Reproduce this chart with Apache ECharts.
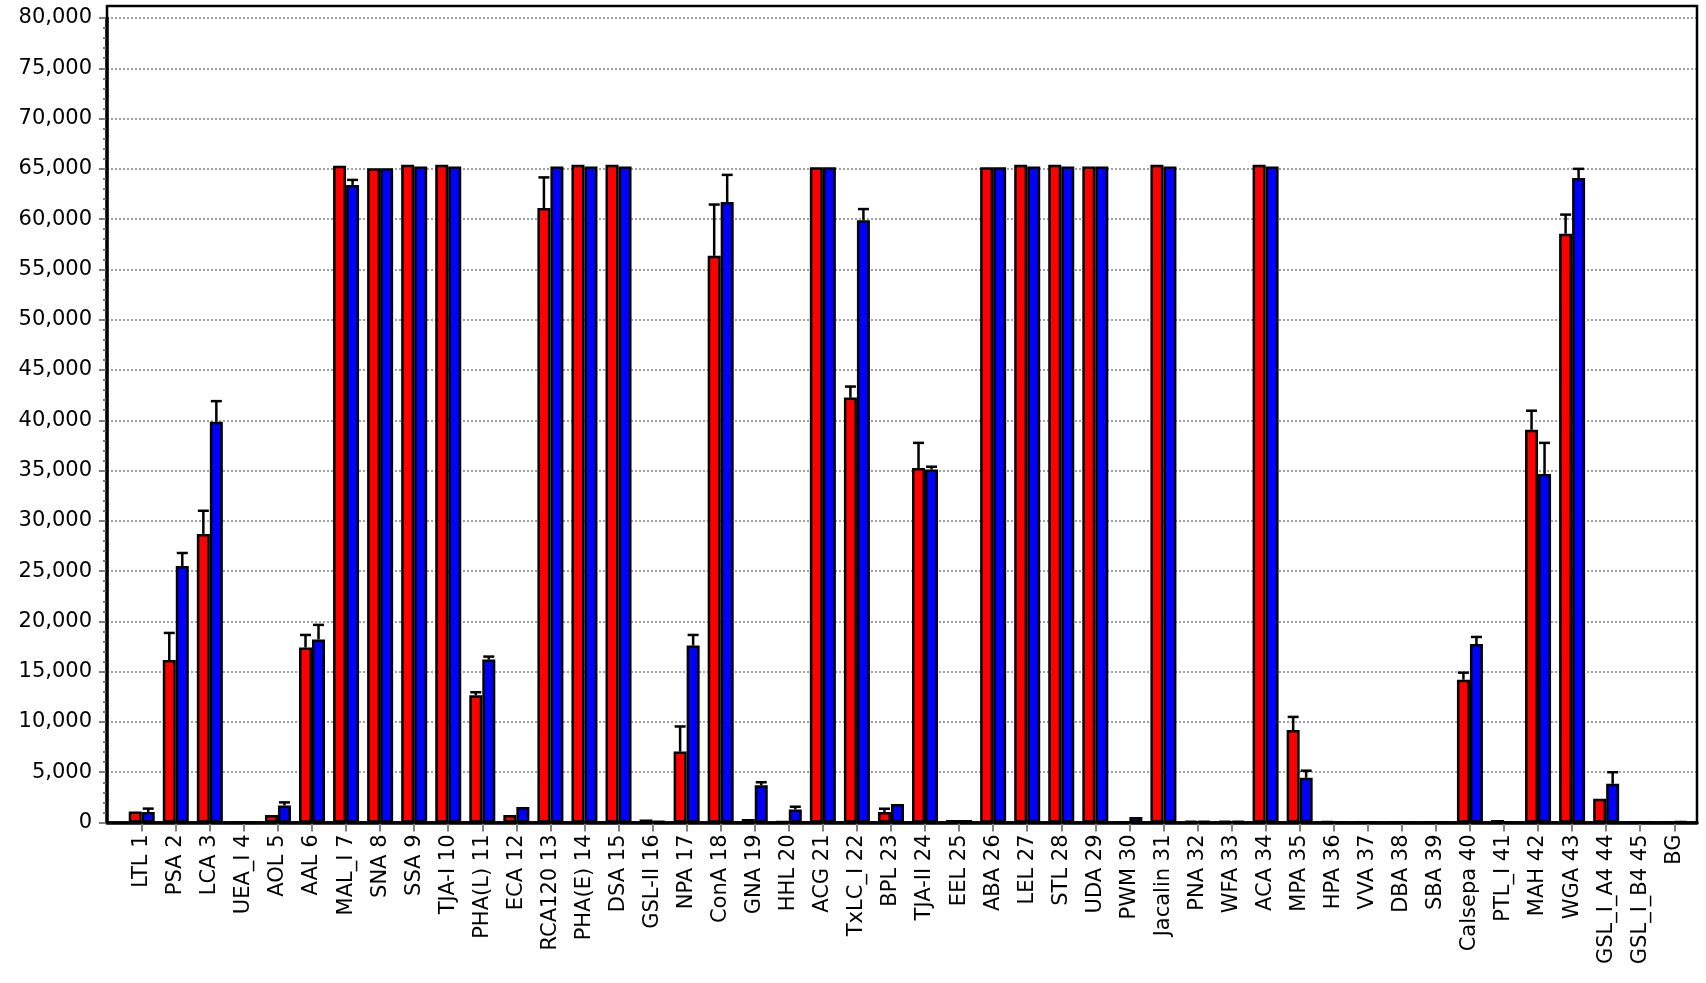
<!DOCTYPE html>
<html>
<head>
<meta charset="utf-8">
<title>Lectin array signal</title>
<script src="https://cdn.jsdelivr.net/npm/echarts/dist/echarts.min.js"></script>
<style>
  html, body { margin: 0; padding: 0; background: #fff; }
  #chart { width: 1706px; height: 983px; }
</style>
</head>
<body>
<div id="chart"></div>
<script>
// Lectin probes along the x axis
const categories = [
  'LTL 1', 'PSA 2', 'LCA 3', 'UEA_I 4', 'AOL 5', 'AAL 6', 'MAL_I 7', 'SNA 8', 'SSA 9', 'TJA-I 10',
  'PHA(L) 11', 'ECA 12', 'RCA120 13', 'PHA(E) 14', 'DSA 15', 'GSL-II 16', 'NPA 17', 'ConA 18', 'GNA 19', 'HHL 20',
  'ACG 21', 'TxLC_I 22', 'BPL 23', 'TJA-II 24', 'EEL 25', 'ABA 26', 'LEL 27', 'STL 28', 'UDA 29', 'PWM 30',
  'Jacalin 31', 'PNA 32', 'WFA 33', 'ACA 34', 'MPA 35', 'HPA 36', 'VVA 37', 'DBA 38', 'SBA 39', 'Calsepa 40',
  'PTL_I 41', 'MAH 42', 'WGA 43', 'GSL_I_A4 44', 'GSL_I_B4 45', 'BG'
];

// First sample (red bars) and its standard deviations
const redValues = [
  1100, 16150, 28700, 0, 750, 17400, 65300, 65050, 65400, 65400,
  12650, 750, 61100, 65400, 65400, 300, 7050, 56350, 350, 100,
  65150, 42250, 1050, 35250, 250, 65150, 65400, 65400, 65230, 0,
  65400, 150, 150, 65400, 9200, 100, 0, 0, 0, 14200,
  250, 39050, 58550, 2350, 0, 0
];
const redErrors = [
  0, 2700, 2300, 0, 0, 1250, 0, 0, 0, 0,
  300, 0, 3050, 0, 0, 0, 2500, 5100, 0, 0,
  0, 1100, 320, 2500, 0, 0, 0, 0, 0, 0,
  0, 0, 0, 0, 1300, 0, 0, 0, 0, 700,
  0, 1900, 1900, 0, 0, 0
];

// Second sample (blue bars) and its standard deviations
const blueValues = [
  1050, 25500, 39850, 0, 1700, 18200, 63400, 65050, 65230, 65230,
  16200, 1550, 65230, 65230, 65230, 150, 17600, 61700, 3700, 1300,
  65150, 59900, 1850, 35100, 250, 65150, 65230, 65230, 65230, 550,
  65230, 150, 150, 65230, 4450, 0, 0, 0, 0, 17750,
  0, 34650, 64100, 3850, 0, 100
];
const blueErrors = [
  330, 1300, 2050, 0, 300, 1450, 500, 0, 0, 0,
  300, 0, 0, 0, 0, 0, 1050, 2700, 300, 270,
  0, 1100, 0, 280, 0, 0, 0, 0, 0, 0,
  0, 0, 0, 0, 700, 0, 0, 0, 0, 700,
  0, 3100, 900, 1150, 0, 0
];

const Y_MAX = 80000;
const Y_STEP = 5000;

const FONT = 'DejaVu Sans';
const BAR_W = 13;
const CAP_W = 11;
const TICK_GREY = '#808080';

const chart = echarts.init(document.getElementById('chart'), null, { renderer: 'canvas' });

// Upward-only error bar (stem + cap) placed over the matching bar
function errorBars(values, errors, side) {
  return {
    type: 'custom',
    xAxisIndex: 1,
    yAxisIndex: 1,
    z: 5,
    silent: true,
    data: values.map((v, i) => [i, v, v + errors[i], errors[i]]),
    encode: { x: 0, y: [1, 2] },
    renderItem(params, api) {
      if (api.value(3) <= 0) return null;
      const base = api.coord([api.value(0), api.value(1)]);
      const tip = api.coord([api.value(0), api.value(2)]);
      const x = base[0] + side * BAR_W / 2;
      const half = CAP_W / 2;
      const style = { stroke: '#000', lineWidth: 2.5 };
      return {
        type: 'group',
        children: [
          { type: 'line', shape: { x1: x, y1: base[1], x2: x, y2: tip[1] }, style },
          { type: 'line', shape: { x1: x - half, y1: tip[1], x2: x + half, y2: tip[1] }, style }
        ]
      };
    }
  };
}

const option = {
  backgroundColor: '#fff',
  animation: false,
  textStyle: { fontFamily: FONT },
  grid: [
    // plot frame with the value axis and the baseline
    { left: 107, right: 9, top: 18, bottom: 160.5, outerBoundsMode: 'none' },
    // band for the paired bars
    { left: 124.7, right: 14.7, top: 18, bottom: 160.5, outerBoundsMode: 'none' }
  ],
  graphic: [{
    type: 'rect',
    silent: true,
    z: 50,
    shape: { x: 107, y: 6, width: 1590, height: 816.5 },
    style: { fill: 'none', stroke: '#000', lineWidth: 2.5 }
  }],
  xAxis: [
    {
      gridIndex: 0,
      type: 'value',
      min: 0,
      max: 1,
      axisLine: { show: true, onZero: false, lineStyle: { color: '#000', width: 3.5 } },
      axisTick: { show: false },
      axisLabel: { show: false },
      splitLine: { show: false }
    },
    {
      gridIndex: 1,
      type: 'category',
      data: categories,
      boundaryGap: true,
      axisLine: { show: false },
      axisTick: {
        show: true,
        alignWithLabel: true,
        interval: 0,
        length: 9,
        lineStyle: { color: TICK_GREY, width: 2 }
      },
      axisLabel: {
        interval: 0,
        rotate: 90,
        margin: 12,
        fontFamily: FONT,
        fontSize: 21,
        color: '#000'
      },
      splitLine: { show: false }
    }
  ],
  yAxis: [
    {
      gridIndex: 0,
      type: 'value',
      min: 0,
      max: Y_MAX,
      interval: Y_STEP,
      axisLine: { show: true, lineStyle: { color: '#000', width: 3.5 } },
      axisTick: { show: true, length: 8, lineStyle: { color: TICK_GREY, width: 2 } },
      minorTick: { show: true, splitNumber: 5, length: 4, lineStyle: { color: TICK_GREY, width: 2 } },
      axisLabel: {
        margin: 15,
        fontFamily: FONT,
        fontSize: 21,
        color: '#000',
        formatter: v => v.toLocaleString('en-US')
      },
      splitLine: {
        show: true,
        lineStyle: { color: '#8a8a8a', width: 1.6, type: [2, 2] }
      },
      minorSplitLine: { show: false }
    },
    {
      gridIndex: 1,
      type: 'value',
      min: 0,
      max: Y_MAX,
      show: false,
      splitLine: { show: false }
    }
  ],
  series: [
    {
      name: 'Sample 1',
      type: 'bar',
      xAxisIndex: 1,
      yAxisIndex: 1,
      data: redValues,
      barWidth: BAR_W,
      barGap: '0%',
      itemStyle: { color: '#ff0000', borderColor: '#000', borderWidth: 2.5 },
      z: 3
    },
    {
      name: 'Sample 2',
      type: 'bar',
      xAxisIndex: 1,
      yAxisIndex: 1,
      data: blueValues,
      barWidth: BAR_W,
      barGap: '0%',
      itemStyle: { color: '#0000ff', borderColor: '#000', borderWidth: 2.5 },
      z: 3
    },
    errorBars(redValues, redErrors, -1),
    errorBars(blueValues, blueErrors, 1)
  ]
};

chart.setOption(option);
</script>
</body>
</html>
